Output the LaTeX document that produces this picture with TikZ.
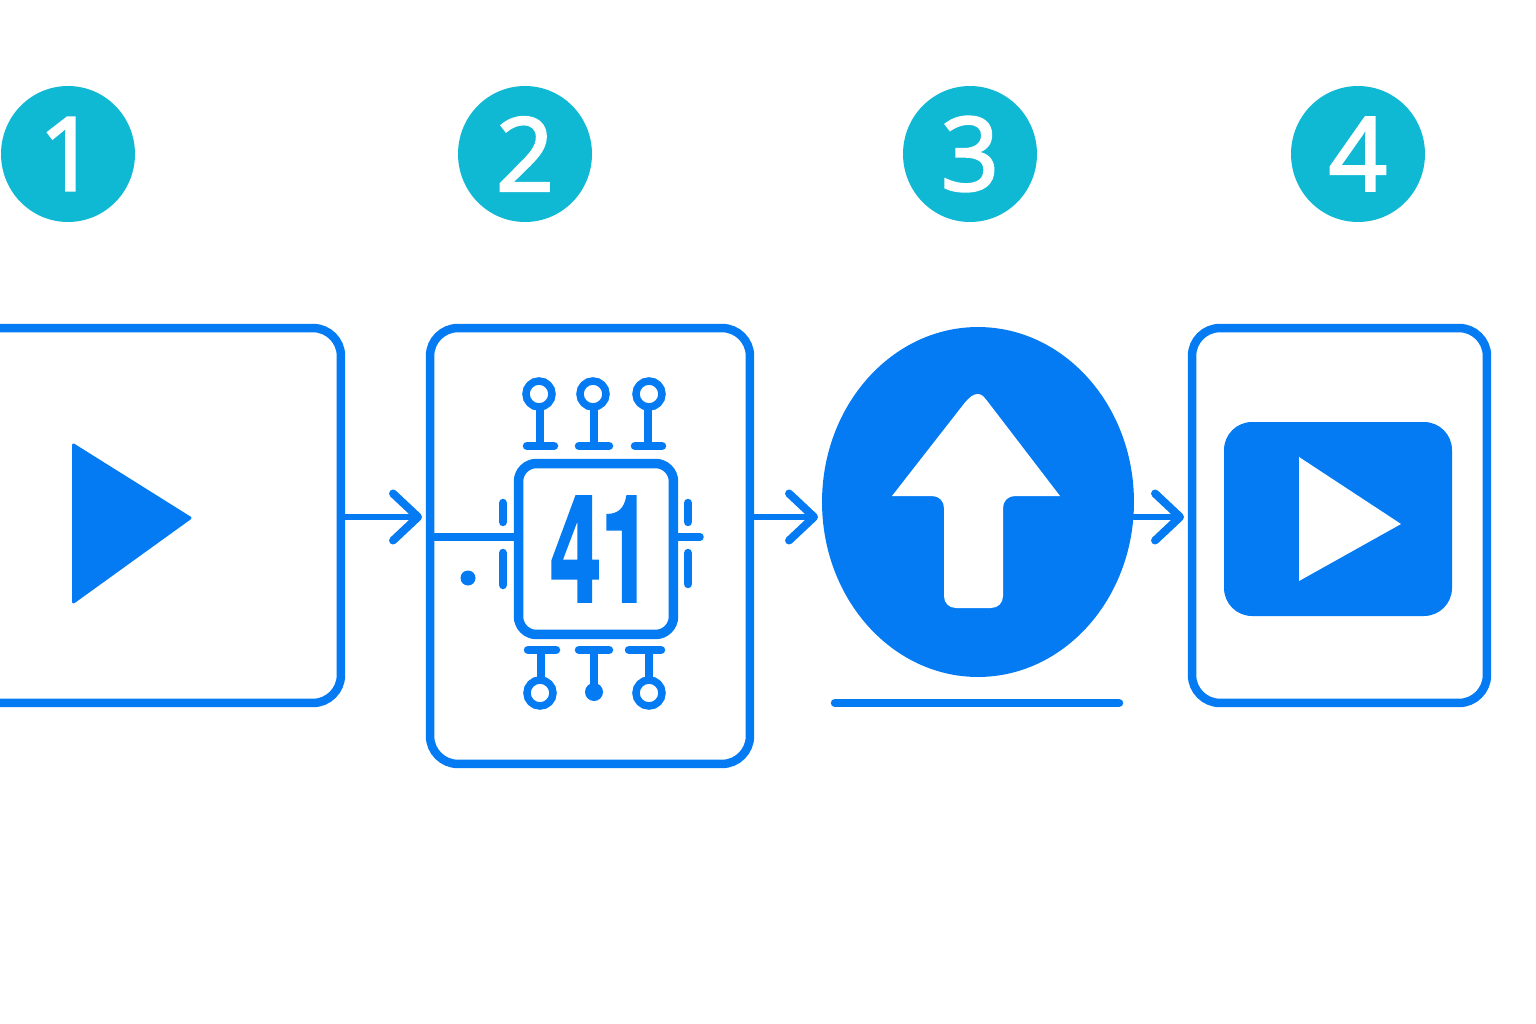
\documentclass[tikz,border=0pt]{standalone}
\usepackage{xcolor}
\usepackage{fontspec}
\usepackage{tikz}
\usetikzlibrary{arrows.meta, shapes.geometric}
\newfontfamily\badgefont[FakeBold=2.5]{Open Sans}
\newfontfamily\chipfont[FakeBold=2]{TeX Gyre Heros Bold}
\definecolor{flow-blue}{HTML}{047BF2}
\definecolor{badge-teal}{HTML}{0FB9D4}

\begin{document}
\begin{tikzpicture}[
    x=0.02cm, y=-0.02cm,
    panel/.style={draw=flow-blue, line width=0.17cm, rounded corners=0.56cm, inner sep=0pt, outer sep=0pt},
    badge/.style={ellipse, fill=badge-teal, text=white, inner sep=0pt, outer sep=0pt,
        minimum width=2.68cm, minimum height=2.72cm, font=\badgefont\fontsize{58}{58}\selectfont},
    flow/.style={draw=flow-blue, line width=0.13cm, shorten >=0.16cm, line cap=round,
        -{Straight Barb[round, length=0.5cm, width=0.94cm, line width=0.16cm]}},
    pin/.style={draw=flow-blue, line width=0.15cm},
    pad/.style={draw=flow-blue, line width=0.17cm, line cap=round},
]
    \clip (0,0) rectangle (1536,1024);

    % Step numbers
    \node[badge] (badge1) at (68,154) {1};
    \node[badge] (badge2) at (525,154) {2};
    \node[badge] (badge3) at (970,154) {3};
    \node[badge] (badge4) at (1358,154) {4};

    % Panels
    \node[panel, minimum width=8.02cm, minimum height=7.5cm] (source) at (140.5,515.5) {};
    \node[panel, minimum width=6.4cm, minimum height=8.72cm] (cpu) at (590,546) {};
    \node[ellipse, fill=flow-blue, inner sep=0pt, outer sep=0pt,
        minimum width=6.24cm, minimum height=7cm] (upload) at (978,502) {};
    \node[panel, minimum width=5.9cm, minimum height=7.5cm] (result) at (1339.5,515.5) {};

    % Connectors
    \coordinate (flowline) at (0,517);
    \draw[flow] (source.east |- flowline) -- (cpu.west |- flowline);
    \draw[flow, shorten >=0.08cm] (cpu.east |- flowline) -- (upload.west |- flowline);
    \draw[flow] (upload.east |- flowline) -- (result.west |- flowline);

    % Source play mark
    \draw[flow-blue, fill=flow-blue, line width=0.06cm, line join=round]
        (73.5,445) -- (190,518) -- (73.5,602) -- cycle;

    % Chip
    \node[draw=flow-blue, line width=0.19cm, rounded corners=0.36cm, inner sep=0pt, outer sep=0pt,
        minimum width=3.1cm, minimum height=3.42cm, text=flow-blue,
        font=\chipfont\fontsize{84}{84}\selectfont] (chip) at (596,549)
        {\hspace{0.2cm}\scalebox{0.62}[1]{41}};
    \draw[pin] (cpu.west |- 0,537) -- (chip.west |- 0,537);
    \draw[pin, line cap=round] (chip.east |- 0,537) -- (700,537);
    \fill[flow-blue] (468,578) circle[radius=7.5];

    % Side pads
    \draw[pad] (503,503) -- (503,522);
    \draw[pad] (503,553) -- (503,585);
    \draw[pad] (688,503) -- (688,522);
    \draw[pad] (688,553) -- (688,584);

    % Top pins
    \draw[pin] (539,394) circle[radius=13];
    \draw[pin] (593,394) circle[radius=13];
    \draw[pin] (649,394) circle[radius=13];
    \draw[pin] (540,407) -- (540,446);
    \draw[pin] (594,407) -- (594,446);
    \draw[pin] (648,407) -- (648,446);
    \draw[pad] (527,446) -- (554,446);
    \draw[pad] (579,446) -- (609,446);
    \draw[pad] (635,446) -- (662,446);

    % Bottom pins
    \draw[pad] (528,650) -- (556,650);
    \draw[pad] (579,650) -- (609,650);
    \draw[pad] (629,650) -- (661,650);
    \draw[pin] (541,650) -- (541,680);
    \draw[pin] (594,650) -- (594,692);
    \draw[pin] (649,650) -- (649,680);
    \draw[pin] (540,693) circle[radius=13];
    \draw[pin] (649,693) circle[radius=13];
    \fill[flow-blue] (594,692) circle[radius=9];

    % Upload arrow
    \fill[white] (892,496) -- (963,405) .. controls (970,396) and (974,394) .. (978,394)
        .. controls (982,394) and (984,397) .. (988,402) -- (1060,496) -- (1015,496)
        .. controls (1008,496) and (1003,501) .. (1003,508) -- (1003,596)
        .. controls (1003,603) and (998,608) .. (991,608) -- (956,608)
        .. controls (949,608) and (944,603) .. (944,596) -- (944,508)
        .. controls (944,501) and (939,496) .. (932,496) -- cycle;
    \draw[pad] (835,703) -- (1119,703);

    % Result player
    \fill[flow-blue, rounded corners=0.56cm] (1224,422) rectangle (1452,616);
    \fill[white] (1299,457) -- (1401,524) -- (1299,581) -- cycle;
\end{tikzpicture}
\end{document}
